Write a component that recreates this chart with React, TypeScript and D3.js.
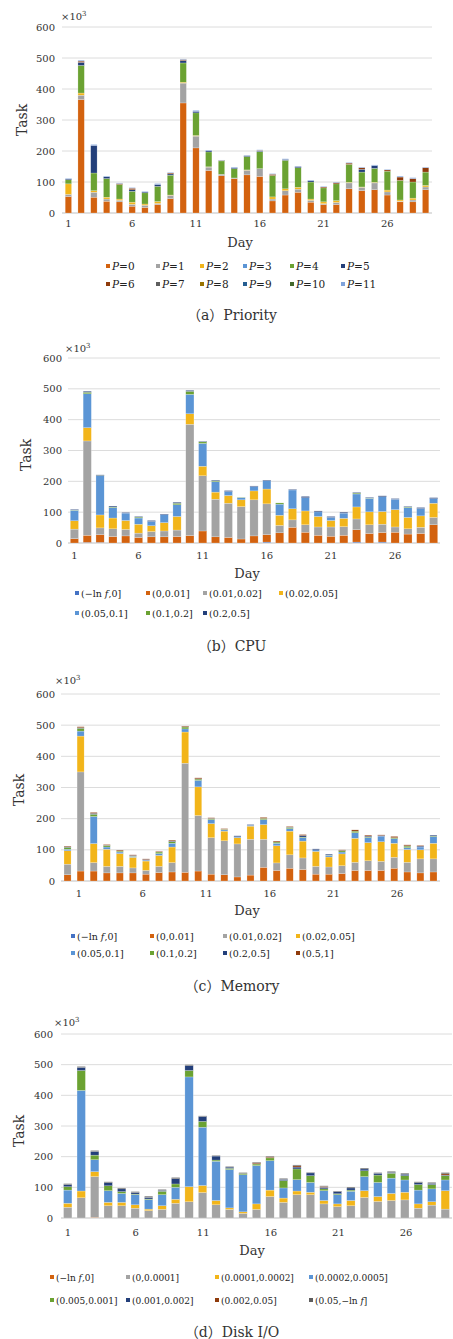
import React from "react";
import * as d3 from "d3";

const W = 453;
const H = 1339;
const days = d3.range(1, 30);
const dayTicks = [1, 6, 11, 16, 21, 26];
const yTicks = [0, 100, 200, 300, 400, 500, 600];

const C = {
  blue: "#4472C4", orange: "#D3620F", gray: "#A3A3A3", gold: "#F2B51A", lblue: "#5B95D5",
  green: "#6BA232", navy: "#233F7A", dred: "#8F3B0C", dgray: "#5E5E5E", brown: "#997300",
  dblue: "#255E91", dgreen: "#43682B", lblue2: "#7FA3DC",
};
const Z = days.map(() => 0);

// (a) Priority
const priLabels = ["P=0", "P=1", "P=2", "P=3", "P=4", "P=5", "P=6", "P=7", "P=8", "P=9", "P=10", "P=11"];
const pri0 = [53, 366, 51, 38, 36, 22, 18, 27, 46, 355, 210, 137, 120, 111, 123, 118, 39, 58, 67, 35, 27, 27, 78, 72, 75, 58, 36, 36, 75];
const pri1 = [7, 14, 16, 7, 5, 6, 7, 4, 11, 64, 38, 11, 5, 2, 15, 25, 6, 14, 10, 6, 3, 7, 19, 11, 22, 10, 2, 6, 9];
const pri2 = [34, 7, 5, 6, 4, 7, 4, 6, 1, 3, 2, 1, 0, 0, 1, 0, 7, 6, 6, 4, 6, 6, 2, 1, 2, 6, 4, 6, 5];
const pri3 = Z;
const pri4 = [13, 89, 57, 60, 47, 35, 36, 49, 64, 62, 73, 48, 43, 30, 43, 55, 69, 92, 63, 55, 45, 54, 58, 48, 45, 61, 63, 52, 43];
const pri5 = [3, 10, 89, 6, 0, 5, 3, 6, 4, 8, 5, 4, 1, 3, 3, 2, 0, 3, 4, 4, 0, 0, 0, 9, 9, 0, 0, 0, 0];
const pri6 = [0, 4, 0, 0, 3, 5, 0, 0, 3, 3, 0, 0, 1, 0, 0, 2, 4, 0, 0, 0, 3, 4, 4, 5, 0, 4, 11, 11, 14];
const pri7 = Z;
const pri8 = Z;
const pri9 = Z;
const pri10 = Z;
const pri11 = [2, 3, 3, 2, 2, 2, 2, 3, 2, 2, 3, 2, 1, 2, 1, 2, 2, 2, 1, 2, 2, 2, 2, 2, 2, 2, 3, 3, 2];

// (b) CPU
const cpuLabels = ["(−ln f,0]", "(0,0.01]", "(0.01,0.02]", "(0.02,0.05]", "(0.05,0.1]", "(0.1,0.2]", "(0.2,0.5]"];
const cpuNeg = [0, 2, 2, 0, 0, 0, 0, 0, 0, 0, 0, 0, 0, 0, 0, 3, 0, 0, 0, 0, 0, 0, 3, 0, 3, 0, 0, 0, 0];
const cpuA = [14, 23, 25, 21, 23, 18, 20, 20, 21, 24, 39, 20, 18, 13, 23, 24, 33, 51, 35, 25, 22, 25, 40, 31, 31, 35, 29, 31, 59];
const cpuB = [31, 306, 22, 25, 21, 14, 17, 19, 21, 361, 179, 122, 111, 105, 117, 100, 24, 24, 24, 27, 30, 28, 35, 28, 27, 17, 17, 20, 24];
const cpuC = [27, 43, 42, 35, 29, 29, 19, 27, 44, 34, 31, 23, 25, 22, 29, 48, 33, 36, 45, 34, 21, 27, 39, 42, 41, 56, 37, 37, 46];
const cpuD = [34, 110, 127, 34, 24, 20, 14, 26, 38, 63, 74, 34, 13, 7, 14, 27, 36, 61, 43, 15, 10, 17, 42, 44, 48, 34, 32, 24, 15];
const cpuE = [1, 5, 1, 2, 0, 3, 0, 0, 5, 10, 5, 3, 0, 1, 0, 0, 4, 0, 0, 0, 0, 0, 3, 1, 0, 0, 2, 0, 0];
const cpuF = [2, 3, 2, 3, 2, 2, 3, 2, 3, 3, 2, 2, 3, 0, 2, 2, 0, 2, 4, 3, 3, 3, 2, 2, 3, 2, 2, 3, 3];

// (c) Memory
const memLabels = ["(−ln f,0]", "(0,0.01]", "(0.01,0.02]", "(0.02,0.05]", "(0.05,0.1]", "(0.1,0.2]", "(0.2,0.5]", "(0.5,1]"];
const memNeg = Z;
const memA = [20, 32, 32, 26, 26, 26, 22, 27, 29, 28, 32, 22, 20, 13, 19, 44, 34, 41, 37, 22, 22, 24, 34, 34, 34, 41, 29, 26, 29];
const memB = [34, 318, 27, 21, 21, 16, 12, 20, 30, 350, 178, 117, 109, 106, 115, 90, 24, 43, 37, 25, 23, 25, 26, 31, 29, 35, 31, 45, 42];
const memC = [43, 115, 61, 55, 41, 34, 30, 35, 50, 100, 92, 45, 31, 20, 42, 47, 55, 76, 54, 48, 32, 38, 77, 58, 63, 45, 41, 29, 50];
const memD = [5, 16, 87, 7, 5, 3, 3, 6, 12, 10, 21, 13, 4, 3, 3, 16, 8, 8, 11, 5, 5, 6, 18, 16, 18, 15, 6, 9, 21];
const memE = [6, 9, 7, 5, 3, 1, 0, 5, 5, 6, 4, 3, 2, 0, 0, 4, 4, 4, 2, 0, 1, 4, 5, 2, 0, 3, 5, 0, 2];
const memF = [2, 2, 3, 1, 0, 2, 2, 0, 2, 1, 1, 1, 0, 3, 2, 0, 0, 1, 5, 3, 3, 1, 0, 3, 2, 0, 1, 3, 3];
const memG = [2, 3, 3, 2, 3, 2, 2, 2, 3, 2, 3, 2, 2, 0, 0, 3, 3, 2, 3, 0, 0, 2, 4, 3, 2, 4, 3, 2, 0];

// (d) Disk I/O
const diskLabels = ["(−ln f,0]", "(0,0.0001]", "(0.0001,0.0002]", "(0.0002,0.0005]", "(0.005,0.001]", "(0.001,0.002]", "(0.002,0.05]", "(0.05,−ln f]"];
const diskNeg = [0, 0, 2, 0, 0, 0, 0, 0, 0, 0, 0, 0, 0, 0, 0, 0, 0, 0, 0, 0, 0, 0, 0, 0, 0, 0, 0, 0, 0];
const diskA = [35, 66, 133, 40, 40, 32, 24, 28, 48, 53, 83, 43, 28, 15, 28, 70, 51, 76, 76, 46, 37, 40, 67, 54, 57, 59, 32, 42, 29];
const diskB = [13, 22, 16, 11, 11, 11, 5, 12, 13, 49, 23, 14, 5, 5, 18, 21, 14, 12, 8, 11, 9, 17, 22, 16, 23, 25, 14, 11, 60];
const diskC = [43, 328, 39, 38, 29, 33, 31, 36, 39, 358, 190, 128, 125, 121, 125, 96, 33, 37, 32, 32, 30, 30, 46, 46, 50, 40, 45, 42, 35];
const diskD = [11, 65, 15, 16, 6, 2, 2, 11, 11, 21, 19, 4, 4, 4, 5, 9, 24, 35, 22, 6, 3, 4, 19, 24, 16, 14, 18, 14, 14];
const diskE = [7, 10, 12, 10, 9, 5, 5, 3, 17, 16, 16, 13, 4, 0, 1, 1, 4, 6, 9, 5, 7, 7, 6, 6, 3, 5, 6, 4, 2];
const diskF = [0, 0, 0, 0, 0, 0, 0, 0, 0, 0, 0, 0, 0, 0, 3, 3, 0, 4, 0, 3, 0, 0, 0, 0, 0, 0, 0, 0, 4];
const diskG = [3, 3, 3, 3, 3, 3, 4, 3, 4, 3, 2, 2, 2, 3, 2, 2, 3, 3, 2, 2, 2, 3, 3, 2, 3, 3, 3, 3, 4];

const SERIF = "'DejaVu Serif', 'Noto Sans CJK SC', serif";

const panels = [
  {
    key: "a",
    caption: "（a）Priority",
    labels: priLabels,
    colors: [C.orange, C.gray, C.gold, C.lblue, C.green, C.navy, C.dred, C.dgray, C.brown, C.dblue, C.dgreen, C.lblue2],
    values: [pri0, pri1, pri2, pri3, pri4, pri5, pri6, pri7, pri8, pri9, pri10, pri11],
    left: 62, right: 432, top: 27, bottom: 213, pad: 0.5,
    yLabelX: 55, x10: [61, 20], task: [23, 120], dayLabel: [240, 247], tickY: 227,
    tickRange: null,
    legendRows: [266, 284], legendCols: [108, 158, 202, 245, 292, 343], legendFont: 10.5,
    captionY: 320,
  },
  {
    key: "b",
    caption: "（b）CPU",
    labels: cpuLabels,
    colors: [C.blue, C.orange, C.gray, C.gold, C.lblue, C.green, C.navy],
    values: [cpuNeg, cpuA, cpuB, cpuC, cpuD, cpuE, cpuF],
    left: 68, right: 440, top: 358, bottom: 543, pad: 0.36,
    yLabelX: 62, x10: [65, 352], task: [27, 455], dayLabel: [247, 578], tickY: 559,
    tickRange: null,
    legendRows: [593, 613], legendCols: [77, 148, 205, 281], legendFont: 9.5,
    captionY: 651,
  },
  {
    key: "c",
    caption: "（c）Memory",
    labels: memLabels,
    colors: [C.blue, C.orange, C.gray, C.gold, C.lblue, C.green, C.navy, C.dred],
    values: [memNeg, memA, memB, memC, memD, memE, memF, memG],
    left: 61, right: 440, top: 694, bottom: 881, pad: 0.46,
    yLabelX: 55, x10: [55, 684], task: [20, 790], dayLabel: [247, 915], tickY: 897,
    tickRange: [79, 397],
    legendRows: [936, 953], legendCols: [73, 152, 225, 298], legendFont: 9.5,
    captionY: 991,
  },
  {
    key: "d",
    caption: "（d）Disk I/O",
    labels: diskLabels,
    colors: [C.orange, C.gray, C.gold, C.lblue, C.green, C.navy, C.dred, C.dgray],
    values: [diskNeg, diskA, diskB, diskC, diskD, diskE, diskF, diskG],
    left: 61, right: 452, top: 1034, bottom: 1218, pad: 0.38,
    yLabelX: 53, x10: [54, 1026], task: [20, 1131], dayLabel: [252, 1255], tickY: 1236,
    tickRange: [68, 406],
    legendRows: [1277, 1300], legendCols: [52, 128, 217, 311], legendFont: 9,
    captionY: 1337,
  },
];

function rich(label: string) {
  const parts = label.split(/(P|f)/);
  return parts.map((p, i) =>
    p === "P" || p === "f" ? (
      <tspan key={i} fontStyle="italic">{p}</tspan>
    ) : (
      <tspan key={i}>{p}</tspan>
    )
  );
}

function Panel({ p }: { p: (typeof panels)[number] }) {
  const x = d3.scaleBand<number>().domain(days).range([p.left, p.right]).paddingInner(p.pad).paddingOuter(p.pad / 2);
  const y = d3.scaleLinear().domain([0, 600]).range([p.bottom, p.top]);
  const keys = p.labels.map((_, i) => "s" + i);
  const rows = days.map((d, di) => {
    const o: Record<string, number> = { day: d };
    keys.forEach((k, si) => (o[k] = p.values[si][di]));
    return o;
  });
  const stack = d3.stack<Record<string, number>>().keys(keys)(rows);
  const tickX = p.tickRange
    ? d3.scaleLinear().domain([1, 26]).range(p.tickRange)
    : (d: number) => (x(d) as number) + x.bandwidth() / 2;
  const perRow = p.legendCols.length;
  return (
    <g>
      {yTicks.map((t) => (
        <g key={t}>
          <line x1={p.left} x2={p.right} y1={y(t)} y2={y(t)} stroke={t === 0 ? "#bfbfbf" : "#dcdcdc"} strokeWidth={1} />
          <text x={p.yLabelX} y={y(t) + 3.5} textAnchor="end" fontSize={10} fontFamily={SERIF} fill="#333">{t}</text>
        </g>
      ))}
      {stack.map((s, si) => (
        <g key={si} fill={p.colors[si]}>
          {s.map((seg, di) => {
            const h = y(seg[0]) - y(seg[1]);
            if (h <= 0) return null;
            return (
              <rect key={di} x={x(days[di])} width={x.bandwidth()} y={y(seg[1])} height={h}
                stroke="#ffffff" strokeOpacity={0.55} strokeWidth={0.4} />
            );
          })}
        </g>
      ))}
      {dayTicks.map((d) => (
        <text key={d} x={tickX(d)} y={p.tickY} textAnchor="middle" fontSize={10} fontFamily={SERIF} fill="#333">{d}</text>
      ))}
      <text x={p.x10[0]} y={p.x10[1]} fontSize={10} fontFamily={SERIF} fill="#333">
        ×10<tspan fontSize={7} dy={-4}>3</tspan>
      </text>
      <text transform={`translate(${p.task[0]},${p.task[1]}) rotate(-90)`} textAnchor="middle" dominantBaseline="middle" fontSize={14} fontFamily={SERIF} fill="#333">Task</text>
      <text x={p.dayLabel[0]} y={p.dayLabel[1]} textAnchor="middle" fontSize={13} fontFamily={SERIF} fill="#333">Day</text>
      {p.labels.map((lab, i) => {
        const cx = p.legendCols[i % perRow];
        const cy = p.legendRows[Math.floor(i / perRow)];
        return (
          <g key={i}>
            <rect x={cx - 2} y={cy - 2} width={4} height={4} fill={p.colors[i]} />
            <text x={cx + 4} y={cy + 3.5} fontSize={p.legendFont} fontFamily={SERIF} fill="#222">{rich(lab)}</text>
          </g>
        );
      })}
      <text x={232} y={p.captionY} textAnchor="middle" fontSize={14} fontFamily={SERIF} fill="#333">{p.caption}</text>
    </g>
  );
}

export default function App() {
  return (
    <svg width={W} height={H} viewBox={`0 0 ${W} ${H}`} style={{ position: "absolute", left: 0, top: 0, background: "#fff" }}>
      <rect width={W} height={H} fill="#fff" />
      {panels.map((p) => (
        <Panel key={p.key} p={p} />
      ))}
    </svg>
  );
}
